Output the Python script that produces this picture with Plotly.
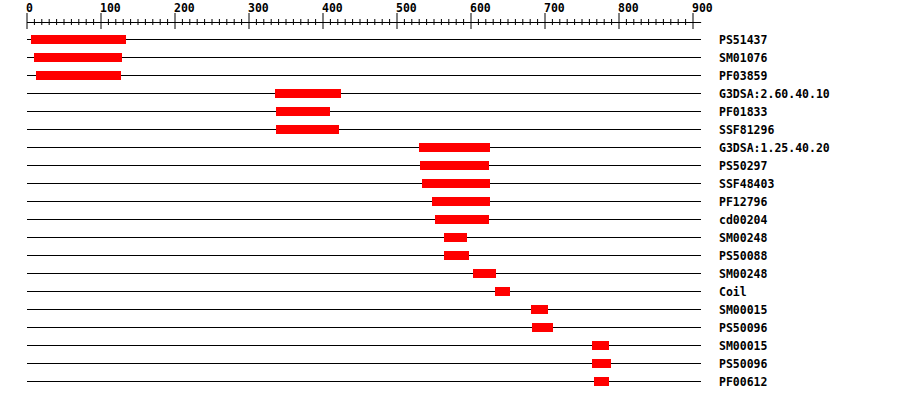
import plotly.graph_objs as go

# domain hits along a protein of length 911
labels = ['PS51437', 'SM01076', 'PF03859', 'G3DSA:2.60.40.10', 'PF01833', 'SSF81296',
          'G3DSA:1.25.40.20', 'PS50297', 'SSF48403', 'PF12796', 'cd00204', 'SM00248',
          'PS50088', 'SM00248', 'Coil', 'SM00015', 'PS50096', 'SM00015', 'PS50096', 'PF00612']
starts = [5, 9, 12, 335, 336, 336, 530, 531, 534, 547, 551, 564, 564, 603, 632, 681, 682, 764, 764, 766]
ends = [134, 128, 127, 424, 409, 422, 626, 624, 626, 626, 624, 595, 597, 634, 653, 704, 711, 786, 789, 786]
seq_len = 911
tick_labels = [0, 100, 200, 300, 400, 500, 600, 700, 800, 900]

# pixel mapping helpers (y axis is in pixels, x axis in residues)
px0 = 27.0
scale = 0.74
row_y = [39.5 + 18 * i for i in range(len(labels))]
axis_y = 22.5

fig = go.Figure()

# track lines (thin bars so the domains sit on top of them)
fig.add_trace(go.Bar(
    y=row_y,
    x=[seq_len] * len(labels),
    base=[0] * len(labels),
    orientation='h',
    width=1,
    marker=dict(color='black', line=dict(width=0)),
    hoverinfo='skip',
))

# domain bars
fig.add_trace(go.Bar(
    y=row_y,
    x=[e - s for s, e in zip(starts, ends)],
    base=starts,
    orientation='h',
    width=9,
    marker=dict(color='#ff0000', line=dict(width=0)),
    text=labels,
    hovertemplate='%{text}: %{base}-%{x}<extra></extra>',
    textposition='none',
))

# ruler
ax_x, ax_y = [0, seq_len, None], [axis_y, axis_y, None]
for t in range(0, 901, 10):
    if t % 100 == 0:
        ax_x += [t, t, None]
        ax_y += [13, 29, None]
    else:
        ax_x += [t, t, None]
        ax_y += [19, 25, None]
fig.add_trace(go.Scatter(x=ax_x, y=ax_y, mode='lines', line=dict(color='black', width=1),
                         hoverinfo='skip'))

lab_font = dict(family='DejaVu Sans Mono', size=11.5, color='black', weight='bold')
for t in tick_labels:
    fig.add_annotation(x=t, y=8, text=str(t), showarrow=False, xanchor='left',
                       yanchor='middle', xshift=-3, font=lab_font)

label_x = (719 - px0) / scale
for lab, y in zip(labels, row_y):
    fig.add_annotation(x=label_x, y=y, text=lab, showarrow=False, xanchor='left',
                       yanchor='middle', xshift=-2, font=lab_font)

fig.update_layout(
    width=900,
    height=400,
    margin=dict(l=0, r=0, t=0, b=0),
    paper_bgcolor='white',
    plot_bgcolor='white',
    showlegend=False,
    barmode='overlay',
    bargap=0,
    xaxis=dict(range=[-px0 / scale, (900 - px0) / scale], visible=False, fixedrange=True),
    yaxis=dict(range=[400, 0], visible=False, fixedrange=True),
)

# drop the default page margin so the figure sits at the window corner
fig.write_html("out.html", config=dict(displayModeBar=False),
               post_script="document.body.style.margin='0';")
